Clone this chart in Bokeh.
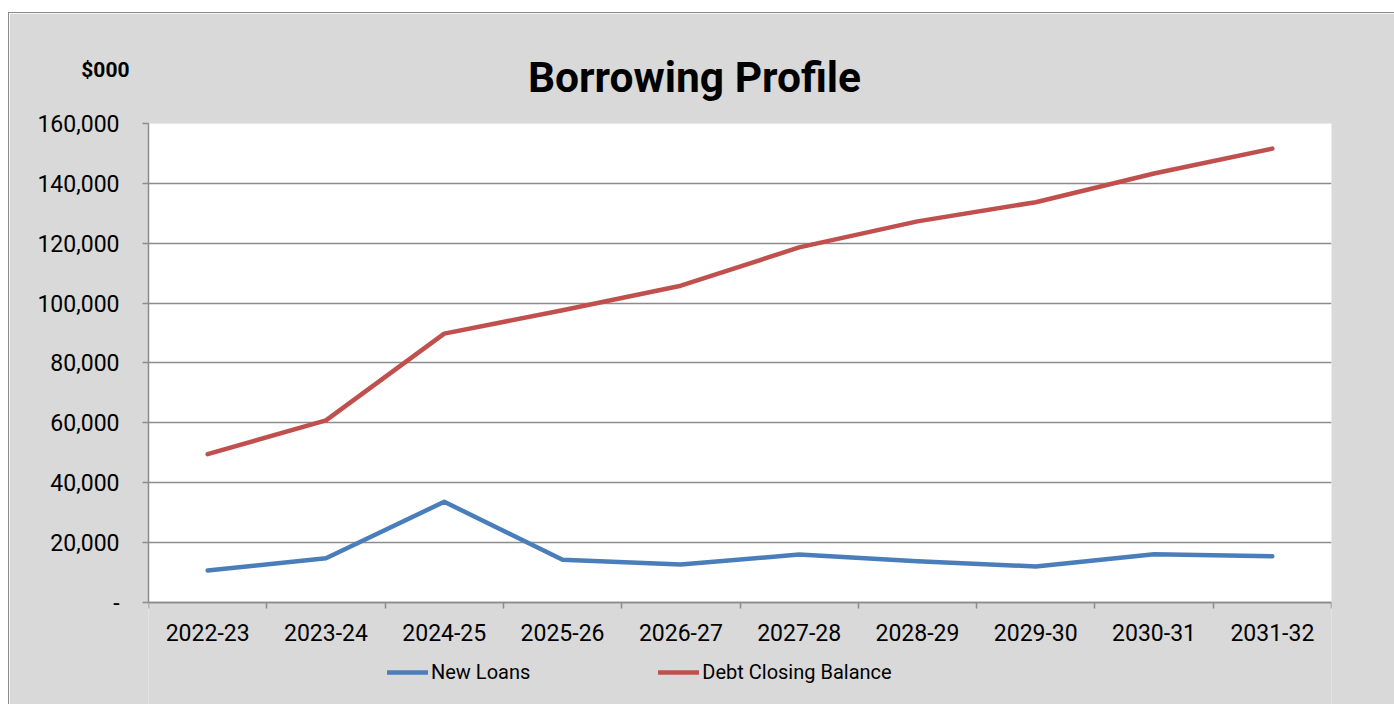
from bokeh.plotting import figure
from bokeh.models import (FixedTicker, Label, Legend, LegendItem, NumeralTickFormatter, Range1d)
from bokeh.embed import file_html
from bokeh.resources import INLINE

years = ["2022-23", "2023-24", "2024-25", "2025-26", "2026-27",
         "2027-28", "2028-29", "2029-30", "2030-31", "2031-32"]
new_loans = [10600, 14700, 33600, 14200, 12600, 16000, 13700, 12000, 16100, 15400]
debt_closing = [49500, 60800, 89800, 97600, 105800, 118600, 127300, 133700, 143300, 151600]
y_ticks = [0, 20000, 40000, 60000, 80000, 100000, 120000, 140000, 160000]

FONT = "Roboto"
GRID = "#8c8c8c"
BG = "#d9d9d9"

Y_TOP = 160000
PLOT_PX = 478      # height of the white plot area in pixels
BELOW_PX = 103     # space kept below the plot area for the axis labels and legend
Y_MIN = -Y_TOP * BELOW_PX / PLOT_PX

xs = [i + 0.5 for i in range(len(years))]

p = figure(width=1386, height=692, output_backend="svg", toolbar_location=None,
           x_range=Range1d(0, len(years)), y_range=Range1d(Y_MIN, Y_TOP),
           min_border_left=139, min_border_right=64, min_border_top=110, min_border_bottom=0)
p.margin = (12, 0, 0, 8)
p.styles = {"border-left": "1px solid #8c8c8c", "border-top": "1px solid #8c8c8c", "box-sizing": "border-box"}
p.border_fill_color = BG
p.background_fill_color = BG
p.outline_line_color = None

# white plot area
p.quad(left=[0], right=[len(years)], bottom=[0], top=[Y_TOP], fill_color="white",
       line_color=None, level="image")

r1 = p.line(xs, new_loans, line_color="#4a7ebb", line_width=4.5, line_join="round", line_cap="round")
r2 = p.line(xs, debt_closing, line_color="#c0504d", line_width=4.5, line_join="round", line_cap="round")

# x axis, fixed at y = 0
xa = p.xaxis[0]
xa.fixed_location = 0
xa.ticker = FixedTicker(ticks=xs, minor_ticks=list(range(len(years) + 1)))
xa.major_label_overrides = {x: y for x, y in zip(xs, years)}
xa.major_tick_line_color = None
xa.minor_tick_in = 0
xa.minor_tick_out = 6
xa.minor_tick_line_color = GRID
xa.minor_tick_line_width = 1.5
xa.axis_line_color = GRID
xa.axis_line_width = 1.5
xa.major_label_text_font = FONT
xa.major_label_text_font_size = "23px"
xa.major_label_text_color = "black"
xa.major_label_standoff = 16

# y axis
ya = p.yaxis[0]
ya.bounds = (0, Y_TOP)
ya.ticker = FixedTicker(ticks=y_ticks)
ya.formatter = NumeralTickFormatter(format="0,0")
ya.major_label_overrides = {0: "-"}
ya.major_tick_in = 0
ya.major_tick_out = 6
ya.minor_tick_line_color = None
ya.major_tick_line_color = GRID
ya.major_tick_line_width = 1.5
ya.axis_line_color = GRID
ya.axis_line_width = 1.5
ya.major_label_text_font = FONT
ya.major_label_text_font_size = "23px"
ya.major_label_text_color = "black"
ya.major_label_standoff = 23

p.xgrid.grid_line_color = None
p.ygrid.ticker = FixedTicker(ticks=y_ticks)
p.ygrid.grid_line_color = GRID
p.ygrid.grid_line_width = 1.5

title = Label(x=546, y=46, x_units="screen", y_units="screen", text="Borrowing Profile",
              text_font=FONT, text_font_style="bold", text_font_size="42.5px",
              text_align="center", text_baseline="middle", text_color="black")
# this label's panel sits above the title's panel, hence the small y
unit = Label(x=-19, y=5, x_units="screen", y_units="screen", text="$000",
             text_font=FONT, text_font_style="bold", text_font_size="21px",
             text_align="right", text_baseline="middle", text_color="black")
p.add_layout(title, "above")
p.add_layout(unit, "above")

legend = Legend(items=[LegendItem(label="New Loans", renderers=[r1]),
                       LegendItem(label="Debt Closing Balance", renderers=[r2])],
                orientation="horizontal", location=(239, 21),
                padding=0, margin=0, spacing=128, label_standoff=3,
                glyph_width=41, glyph_height=20, label_height=20,
                label_text_font=FONT, label_text_font_size="20px", label_text_color="black",
                border_line_color=None, background_fill_alpha=0)
p.add_layout(legend, "center")

open("out.html", "w").write(file_html(p, INLINE))
